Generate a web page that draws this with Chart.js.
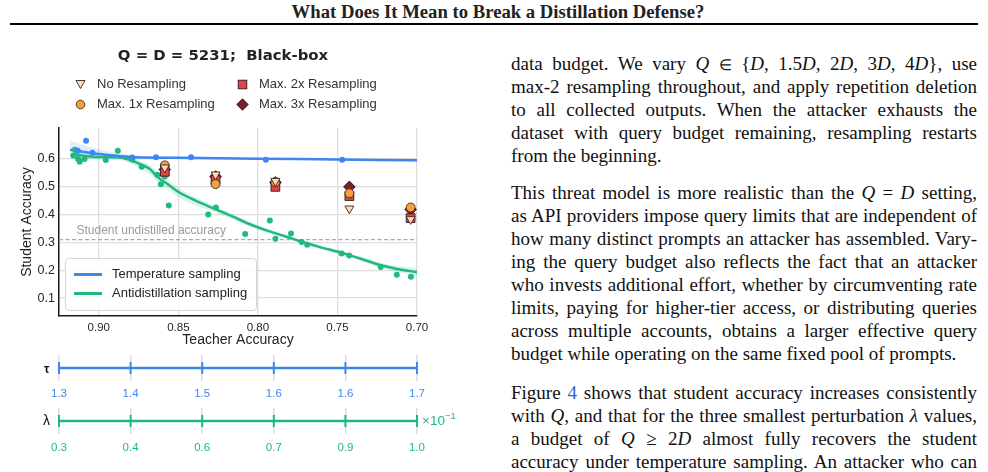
<!DOCTYPE html>
<html>
<head>
<meta charset="utf-8">
<script src="https://cdn.jsdelivr.net/npm/chart.js@4.4.1/dist/chart.umd.min.js"></script>
<style>
  html, body { margin: 0; padding: 0; background: #fff; }
  body { width: 988px; height: 472px; position: relative; overflow: hidden; font-family: 'Liberation Sans', Arial, sans-serif; color: #222; }
  .abs { position: absolute; }
  #hdr { left: 4px; width: 988px; top: 1px; text-align: center; font: bold 18.7px 'Liberation Serif', 'Times New Roman', serif; }
  #rule { left: 10px; width: 968px; top: 23px; height: 2px; background: #000; }
  #title { left: 0; width: 446px; top: 46px; text-align: center; font: bold 14.9px 'DejaVu Sans', sans-serif; color: #222; white-space: nowrap; }
  .leg { font-size: 13px; color: #333; line-height: 16px; white-space: nowrap; }
  .mk { position: absolute; }
  #inner { left: 65px; top: 258px; width: 190px; height: 51px; border: 1px solid #d4d4d4; border-radius: 4px; background: rgba(255,255,255,0.85); }
  .sw { position: absolute; left: 8px; width: 28px; height: 2.5px; }
  .il { position: absolute; left: 46px; font-size: 13px; color: #222; white-space: nowrap; line-height: 16px; }
  .sym { font-size: 12px; color: #111; }
  .ln { position: absolute; left: 511px; width: 466px; font: 19px 'Liberation Serif', 'Times New Roman', serif; line-height: 23px; white-space: nowrap; text-align: justify; text-align-last: justify; color: #111; }
  .ln.last { text-align-last: left; }
  .op { font-size: 15px; }
  canvas { position: absolute; left: 0; }
</style>
</head>
<body>
<div id="hdr" class="abs">What Does It Mean to Break a Distillation Defense?</div>
<div id="rule" class="abs"></div>

<canvas id="mainChart" width="480" height="350" style="top:0"></canvas>
<canvas id="tauChart" width="480" height="70" style="top:341px"></canvas>
<canvas id="lamChart" width="480" height="70" style="top:399px"></canvas>

<div id="title" class="abs">Q = D = 5231;&nbsp; Black-box</div>

<!-- resampling legend -->
<svg class="mk" style="left:75px;top:79px" width="11" height="11"><polygon points="1,1.5 10,1.5 5.5,9.5" fill="#fddcbc" stroke="#3a2424" stroke-width="0.9"/></svg>
<div class="abs leg" style="left:97px;top:76px">No Resampling</div>
<svg class="mk" style="left:75px;top:99px" width="11" height="11"><circle cx="5.5" cy="5.5" r="4.3" fill="#f3a040" stroke="#4a2a10" stroke-width="0.9"/></svg>
<div class="abs leg" style="left:97px;top:96px">Max. 1x Resampling</div>
<svg class="mk" style="left:237px;top:79px" width="11" height="11"><rect x="1.2" y="1.2" width="8.6" height="8.6" fill="#dd4646" stroke="#3a1616" stroke-width="0.9"/></svg>
<div class="abs leg" style="left:259px;top:76px">Max. 2x Resampling</div>
<svg class="mk" style="left:236px;top:98px" width="13" height="13"><polygon points="6.5,0.8 12.2,6.5 6.5,12.2 0.8,6.5" fill="#7a1f2c" stroke="#2a0a0e" stroke-width="0.9"/></svg>
<div class="abs leg" style="left:259px;top:96px">Max. 3x Resampling</div>

<!-- line legend -->
<div id="inner" class="abs">
  <div class="sw" style="top:14px;background:#3f86f2"></div>
  <div class="il" style="top:7px">Temperature sampling</div>
  <div class="sw" style="top:33px;background:#1fba7c"></div>
  <div class="il" style="top:26px">Antidistillation sampling</div>
</div>

<div class="abs sym" style="left:44px;top:362px;font-weight:bold;">τ</div>
<div class="abs sym" style="left:43px;top:412px;font-size:14px;">λ</div>
<div class="abs" style="left:422px;top:410px;font-size:13.5px;color:#1fba7c;">×10<sup style="font-size:9.5px">−1</sup></div>

<!-- paper text -->
<div class="ln" style="top:52px">data budget. We vary <i>Q</i> <span class="op">∈</span> {<i>D</i>, 1.5<i>D</i>, 2<i>D</i>, 3<i>D</i>, 4<i>D</i>}, use</div>
<div class="ln" style="top:75px">max-2 resampling throughout, and apply repetition deletion</div>
<div class="ln" style="top:98px">to all collected outputs. When the attacker exhausts the</div>
<div class="ln" style="top:121px">dataset with query budget remaining, resampling restarts</div>
<div class="ln last" style="top:144px">from the beginning.</div>
<div class="ln" style="top:181px">This threat model is more realistic than the <i>Q</i> = <i>D</i> setting,</div>
<div class="ln" style="top:204px">as API providers impose query limits that are independent of</div>
<div class="ln" style="top:227px">how many distinct prompts an attacker has assembled. Vary-</div>
<div class="ln" style="top:250px">ing the query budget also reflects the fact that an attacker</div>
<div class="ln" style="top:273px">who invests additional effort, whether by circumventing rate</div>
<div class="ln" style="top:296px">limits, paying for higher-tier access, or distributing queries</div>
<div class="ln" style="top:319px">across multiple accounts, obtains a larger effective query</div>
<div class="ln last" style="top:342px">budget while operating on the same fixed pool of prompts.</div>
<div class="ln" style="top:381px">Figure <span style="color:#2f5fc4">4</span> shows that student accuracy increases consistently</div>
<div class="ln" style="top:404px">with <i>Q</i>, and that for the three smallest perturbation <i>λ</i> values,</div>
<div class="ln" style="top:427px">a budget of <i>Q</i> ≥ 2<i>D</i> almost fully recovers the student</div>
<div class="ln" style="top:450px">accuracy under temperature sampling. An attacker who can</div>

<script>
const BLUE = '#3f86f2';
const GREEN = '#1fba7c';

const xTicks = [0.90, 0.85, 0.80, 0.75, 0.70];
const yTicks = [0.1, 0.2, 0.3, 0.4, 0.5, 0.6];

// temperature sampling runs
const tempX = [0.9132, 0.908, 0.904, 0.879, 0.864, 0.842, 0.795, 0.747];
const tempY = [0.628, 0.664, 0.621, 0.604, 0.605, 0.605, 0.596, 0.596];

// antidistillation sampling runs
const antiX = [0.915, 0.916, 0.913, 0.912, 0.909, 0.8956, 0.888, 0.879, 0.873, 0.8633, 0.8585, 0.861, 0.856,
               0.8312, 0.8264, 0.808, 0.7925, 0.789, 0.7792, 0.7725, 0.769, 0.7474, 0.7426, 0.7228, 0.7127, 0.7038];
const antiY = [0.632, 0.611, 0.599, 0.589, 0.599, 0.595, 0.628, 0.597, 0.571, 0.542, 0.536, 0.508, 0.432,
               0.400, 0.425, 0.330, 0.378, 0.313, 0.332, 0.301, 0.291, 0.260, 0.253, 0.212, 0.184, 0.177];

// smoothed fits + bands
const tempFitX = [0.918, 0.91, 0.90, 0.89, 0.88, 0.87, 0.86, 0.85, 0.80, 0.75, 0.70];
const tempFitY = [0.632, 0.625, 0.617, 0.611, 0.606, 0.604, 0.603, 0.603, 0.600, 0.597, 0.594];
const tempLo   = [0.600, 0.601, 0.601, 0.600, 0.598, 0.598, 0.598, 0.598, 0.597, 0.594, 0.589];
const tempHi   = [0.665, 0.650, 0.634, 0.622, 0.614, 0.610, 0.608, 0.607, 0.603, 0.601, 0.599];

const antiFitX = [0.9164, 0.9038, 0.8887, 0.8824, 0.8742, 0.8679, 0.8635, 0.8572, 0.8491, 0.8384, 0.8283,
                  0.8157, 0.8050, 0.7937, 0.7830, 0.7723, 0.7610, 0.7484, 0.7358, 0.7233, 0.7107, 0.7000];
const antiFitY = [0.617, 0.607, 0.605, 0.599, 0.581, 0.563, 0.536, 0.511, 0.478, 0.448, 0.423,
                  0.392, 0.365, 0.341, 0.322, 0.302, 0.283, 0.264, 0.242, 0.219, 0.203, 0.193];
const antiLo   = [0.598, 0.597, 0.596, 0.588, 0.565, 0.543, 0.517, 0.492, 0.458, 0.430, 0.410,
                  0.382, 0.356, 0.334, 0.315, 0.296, 0.276, 0.257, 0.234, 0.209, 0.191, 0.180];
const antiHi   = [0.635, 0.618, 0.612, 0.607, 0.592, 0.578, 0.553, 0.527, 0.492, 0.460, 0.434,
                  0.401, 0.373, 0.348, 0.328, 0.308, 0.289, 0.271, 0.250, 0.228, 0.214, 0.207];

const baseline = 0.31;

// resampling variants
const resampX  = [0.8585, 0.8266, 0.789, 0.7425, 0.704];
const noResamp = [0.568, 0.543, 0.520, 0.421, 0.383];
const max1x    = [0.576, 0.509, 0.516, 0.476, 0.425];
const max2x    = [0.553, 0.525, 0.499, 0.466, 0.387];
const max3x    = [0.561, 0.536, 0.515, 0.499, 0.418];

const tauLabels = ['1.3', '1.4', '1.5', '1.6', '1.6', '1.7'];
const lamLabels = ['0.3', '0.4', '0.6', '0.7', '0.9', '1.0'];

const pts = (xs, ys) => xs.map((x, i) => ({ x, y: ys[i] }));
const sans = "'Liberation Sans', Arial, sans-serif";
const tickFont = { family: sans, size: 11.5 };

const markerSet = (data, style, r, fill, edge, order, rot) => ({
  data: pts(resampX, data), showLine: false, order,
  pointStyle: style, pointRadius: r, pointRotation: rot || 0,
  pointBackgroundColor: fill, pointBorderColor: edge, pointBorderWidth: 0.9
});

const baselineLabel = {
  id: 'baselineLabel',
  afterDatasetsDraw(chart) {
    const { ctx, scales: { x, y } } = chart;
    ctx.save();
    ctx.font = "12px " + sans;
    ctx.fillStyle = '#9a9a9a';
    ctx.textBaseline = 'middle';
    ctx.fillText('Student undistilled accuracy', x.getPixelForValue(0.914), y.getPixelForValue(baseline) - 9);
    ctx.restore();
  }
};

new Chart(document.getElementById('mainChart'), {
  type: 'scatter',
  data: {
    datasets: [
      markerSet(noResamp, 'triangle', 5.2, '#fddcbc', '#3a2424', 1, 180),
      markerSet(max1x, 'circle', 4.5, '#f3a040', '#4a2a10', 2),
      markerSet(max2x, 'rect', 6.2, '#dd4646', '#3a1616', 3),
      markerSet(max3x, 'rectRot', 5.8, '#7a1f2c', '#2a0a0e', 4),
      { data: pts(tempX, tempY), showLine: false, order: 6, pointRadius: 3, pointBackgroundColor: BLUE, pointBorderWidth: 0 },
      { data: pts(antiX, antiY), showLine: false, order: 6, pointRadius: 3, pointBackgroundColor: GREEN, pointBorderWidth: 0 },
      { data: pts(tempFitX, tempFitY), showLine: true, order: 7, borderColor: BLUE, borderWidth: 2.5, pointRadius: 0, tension: 0.3 },
      { data: pts(antiFitX, antiFitY), showLine: true, order: 7, borderColor: GREEN, borderWidth: 2.5, pointRadius: 0, tension: 0.3 },
      { data: pts(tempFitX, tempHi), showLine: true, order: 9, borderWidth: 0, pointRadius: 0, tension: 0.3, fill: '+1', backgroundColor: 'rgba(63,134,242,0.16)' },
      { data: pts(tempFitX, tempLo), showLine: true, order: 9, borderWidth: 0, pointRadius: 0, tension: 0.3 },
      { data: pts(antiFitX, antiHi), showLine: true, order: 9, borderWidth: 0, pointRadius: 0, tension: 0.3, fill: '+1', backgroundColor: 'rgba(31,186,124,0.16)' },
      { data: pts(antiFitX, antiLo), showLine: true, order: 9, borderWidth: 0, pointRadius: 0, tension: 0.3 },
      { data: pts([0.925, 0.70], [baseline, baseline]), showLine: true, order: 8, borderColor: '#a8a8a8', borderWidth: 1.2, borderDash: [4, 2.5], pointRadius: 0 }
    ]
  },
  options: {
    responsive: false, animation: false, events: [],
    layout: { padding: { left: 17, right: 63, top: 128, bottom: 0 } },
    plugins: { legend: { display: false }, tooltip: { enabled: false } },
    scales: {
      x: {
        type: 'linear', reverse: true, min: 0.70, max: 0.925,
        afterBuildTicks: s => { s.ticks = xTicks.map(v => ({ value: v })); },
        afterFit: s => { s.height = 34; },
        grid: { color: '#dedede', lineWidth: 1.3, drawTicks: false },
        border: { display: true, color: '#1a1a1a', width: 1.5 },
        ticks: { font: tickFont, color: '#262626', padding: 5, callback: v => v.toFixed(2) },
        title: { display: true, text: 'Teacher Accuracy', color: '#222', font: { family: sans, size: 14, lineHeight: 1.2 }, padding: { top: 0, bottom: 1 } }
      },
      y: {
        min: 0.036, max: 0.71,
        afterBuildTicks: s => { s.ticks = yTicks.map(v => ({ value: v })); },
        afterFit: s => { s.width = 42; },
        grid: { color: '#dedede', lineWidth: 1.3, drawTicks: false },
        border: { display: true, color: '#1a1a1a', width: 1.5 },
        ticks: { font: { family: sans, size: 12.5 }, color: '#262626', padding: 4, callback: v => v.toFixed(1) },
        title: { display: true, text: 'Student Accuracy', color: '#222', font: { family: sans, size: 14, lineHeight: 1.2 }, padding: { top: 2, bottom: 0 } }
      }
    }
  },
  plugins: [baselineLabel]
});

function sliderChart(id, labels, color, padTop, labelPad) {
  return new Chart(document.getElementById(id), {
    type: 'line',
    data: {
      labels,
      datasets: [{
        data: labels.map(() => 0), borderColor: color, borderWidth: 2.5,
        pointStyle: 'line', pointRotation: 90, pointRadius: 6,
        pointBorderColor: color, pointBorderWidth: 2
      }]
    },
    options: {
      responsive: false, animation: false, events: [],
      layout: { padding: { left: 59, right: 63, top: padTop, bottom: 0 } },
      plugins: { legend: { display: false }, tooltip: { enabled: false } },
      scales: {
        x: {
          afterFit: s => { s.height = 70 - padTop - 26; },
          grid: { color: '#dcdcdc', lineWidth: 1.5, drawTicks: false },
          border: { display: false },
          ticks: { color, font: tickFont, padding: labelPad, autoSkip: false, maxRotation: 0 }
        },
        y: { display: false, min: -1, max: 1 }
      }
    }
  });
}

sliderChart('tauChart', tauLabels, BLUE, 14, 6);
sliderChart('lamChart', lamLabels, GREEN, 9, 7);
</script>
</body>
</html>
